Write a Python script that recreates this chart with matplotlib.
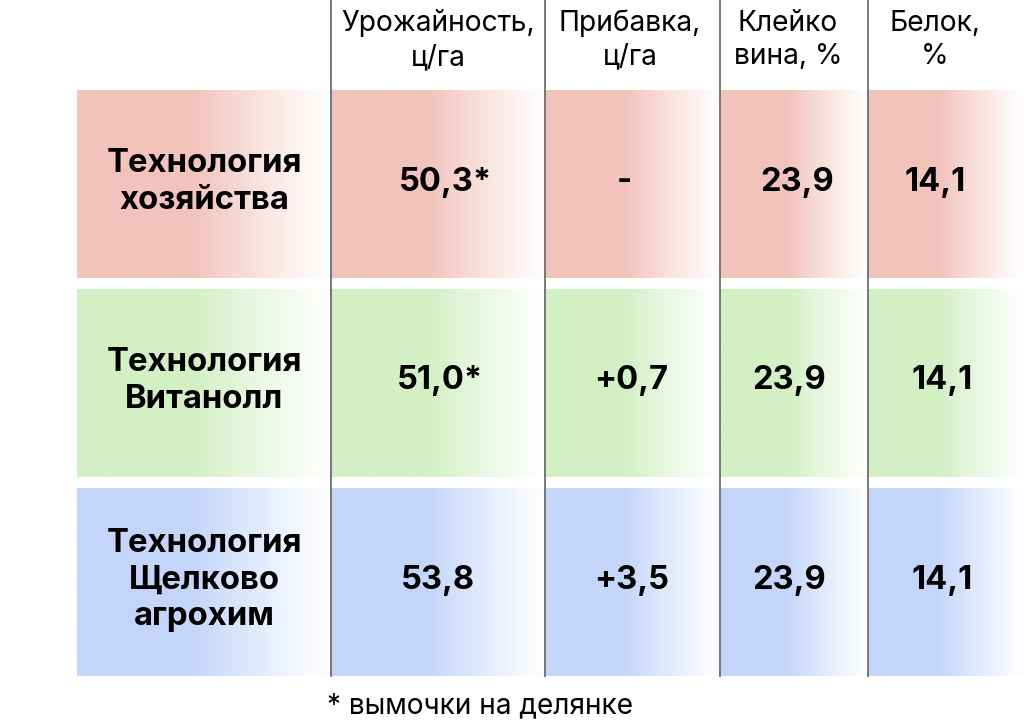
import numpy as np
import matplotlib
matplotlib.use("Agg")
import matplotlib.pyplot as plt
from matplotlib.colors import to_rgb

plt.rcParams['font.family'] = ['Inter', 'DejaVu Sans']

# table content
headers = ["Урожайность,\nц/га", "Прибавка,\nц/га", "Клейко\nвина, %", "Белок,\n%"]
row_labels = ["Технология\nхозяйства", "Технология\nВитанолл", "Технология\nЩелково\nагрохим"]
yield_vals = ["50,3*", "51,0*", "53,8"]
gain_vals = ["-", "+0,7", "+3,5"]
gluten_vals = ["23,9", "23,9", "23,9"]
protein_vals = ["14,1", "14,1", "14,1"]
row_colors = ["#f2c3bb", "#d2f0c4", "#c3d6fa"]
footnote = "* вымочки на делянке"

W, H = 1024, 726
fig = plt.figure(figsize=(W / 100, H / 100), dpi=100)
ax = fig.add_axes([0, 0, 1, 1])
ax.set_xlim(0, W)
ax.set_ylim(H, 0)
ax.axis('off')

col_edges = [77, 331, 545, 720, 868, 1024]
row_tops = [90, 289, 488]
row_h = 188
text_x = [[445, 624, 797, 935],
          [440, 631, 789, 942],
          [438, 632, 789, 942]]


def gradient_cell(x0, x1, y0, y1, color, fade_start=0.45):
    t = np.linspace(0, 1, 200)
    a = np.where(t < fade_start, 1.0, 1 - (t - fade_start) / (1 - fade_start))
    a = np.clip(a, 0.04, 1) ** 1.1
    rgb = np.array(to_rgb(color))
    img = np.ones((2, 200, 3))
    img[:, :, :] = rgb[None, None, :] * a[None, :, None] + (1 - a[None, :, None])
    ax.imshow(img, extent=(x0, x1, y1, y0), aspect='auto', interpolation='bilinear', zorder=1)


for r, label in enumerate(row_labels):
    y0 = row_tops[r]
    y1 = y0 + row_h
    for c in range(len(col_edges) - 1):
        gradient_cell(col_edges[c], col_edges[c + 1], y0, y1, row_colors[r])
    yc = (y0 + y1) / 2
    ax.text(204, yc - 2, label, ha='center', va='center', fontsize=23.7,
            fontweight='bold', linespacing=1.24, zorder=3)
    vals = [yield_vals[r], gain_vals[r], gluten_vals[r], protein_vals[r]]
    for c, v in enumerate(vals):
        ax.text(text_x[r][c], yc - 2, v, ha='center', va='center', fontsize=23.5,
                fontweight='bold', zorder=3)

header_x = [438, 630, 788, 935]
for hx, h in zip(header_x, headers):
    ax.text(hx, 40, h, ha='center', va='center', fontsize=20.3, linespacing=1.32, zorder=3)

for x in col_edges[1:-1]:
    ax.plot([x, x], [0, 676], color='#6e6e6e', lw=1.3, zorder=2)

ax.text(480, 706, footnote, ha='center', va='center', fontsize=20.2, zorder=3)

fig.savefig("out.png", dpi=100)
